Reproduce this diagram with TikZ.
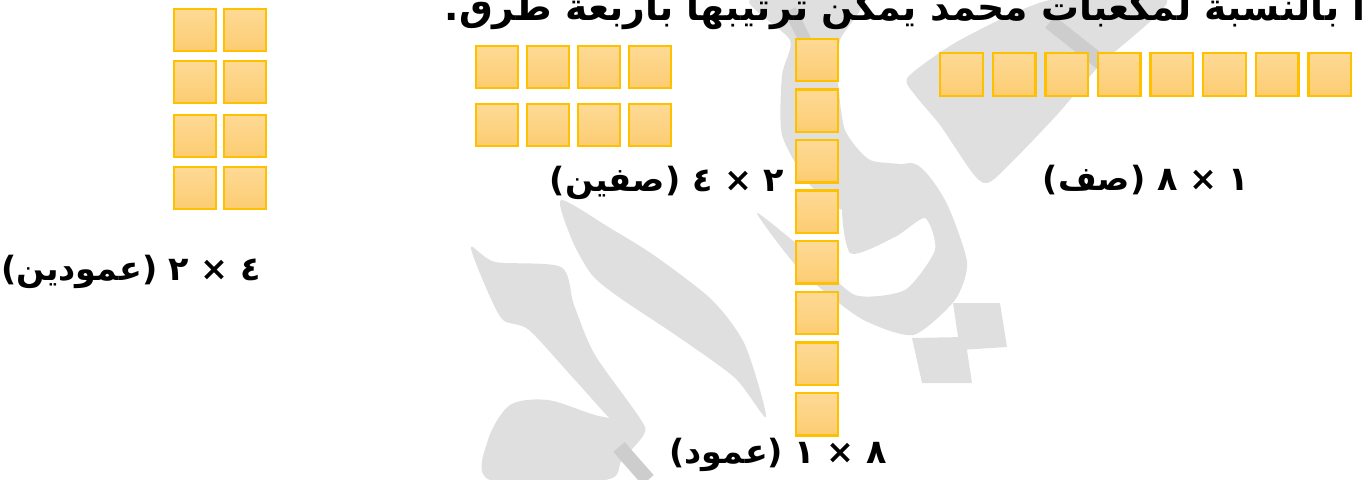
\documentclass[tikz,border=0pt]{standalone}
\usepackage{fontspec}
\newfontfamily\arabicfont[Script=Arabic]{DejaVu Sans}
\TeXXeTstate=1
\usetikzlibrary{backgrounds}
\definecolor{cubeline}{HTML}{FFC000}
\definecolor{cubetop}{HTML}{FEDA96}
\definecolor{cubebottom}{HTML}{FCCC72}
\definecolor{watermark}{HTML}{DFDFDF}
\definecolor{watermarkdark}{HTML}{CDCDCD}
\tikzset{
  cube/.style={
    shape=rectangle, draw=cubeline, line width=1.4pt, inner sep=0pt,
    top color=cubetop, bottom color=cubebottom, minimum size=0.85cm},
  size label/.style={
    font=\arabicfont\bfseries\fontsize{19}{22}\selectfont, inner sep=0pt},
  mark stroke/.style={fill=watermark, draw=none}
}

\begin{document}
\begin{tikzpicture}[x=0.02cm, y=-0.02cm]
\useasboundingbox (0,0) rectangle (1370,480);

% watermark behind the cubes
\begin{scope}[on background layer]
\fill[mark stroke] plot[smooth cycle, tension=.45] coordinates {
  (561,200) (610,228) (655,256) (712,300) (745,345) (766,417)
  (735,378) (677,336) (620,298) (592,275) (572,240)};
\fill[mark stroke] plot[smooth cycle, tension=.45] coordinates {
  (471,247) (495,262) (561,267) (574,305) (595,355) (645,427)
  (622,430) (575,380) (529,330) (503,320) (487,290)};
\fill[mark stroke] plot[smooth cycle, tension=.5] coordinates {
  (490,480) (488,440) (510,405) (548,400) (595,415) (645,428)
  (622,460) (605,480)};
\fill[mark stroke] plot[smooth cycle, tension=.4] coordinates {
  (750,0) (860,0) (840,40) (838,80) (845,130) (870,160) (915,168)
  (925,212) (895,230) (850,215) (810,185) (782,135) (782,75) (790,40)};
\fill[mark stroke] plot[smooth cycle, tension=.4] coordinates {
  (845,190) (912,163) (945,200) (967,262) (955,300) (913,335) (860,318)
  (800,270) (757,213) (810,255) (855,295) (905,290) (935,250) (925,218)
  (895,237) (850,253)};
\fill[mark stroke] (953,303) -- (1000,303) -- (1007,347) -- (960,350) -- cycle;
\fill[mark stroke] (912,338) -- (965,337) -- (972,383) -- (922,383) -- cycle;
\fill[mark stroke] plot[smooth cycle, tension=.4] coordinates {
  (908,77) (960,40) (1050,0) (1167,0) (1100,65) (1055,117) (993,180)
  (975,176) (940,125) (915,95)};
\draw[watermarkdark, line width=0.3cm] (1050,22) -- (1103,64);
\draw[watermarkdark, line width=0.25cm] (790,10) -- (805,40);
\draw[watermarkdark, line width=0.3cm] (619,447) -- (648,480);
\end{scope}

% four by two: two columns
\foreach \c in {1,2}
  \foreach \r/\y in {1/30, 2/82, 3/136, 4/188}
    \node[cube] (pair-\r-\c) at ({145+50*\c},\y) {};
\node[size label] (pair-label) at (131,272) {\beginR ٤ × ٢ (عمودين)\endR};

% two by four: two rows
\foreach \c/\x in {1/497, 2/548, 3/599, 4/650}
  \foreach \r/\y in {1/67, 2/125}
    \node[cube] (rows-\r-\c) at (\x,\y) {};
\node[size label] (rows-label) at (667,183) {\beginR ٢ × ٤ (صفين)\endR};

% eight by one: one column
\foreach \r in {1,...,8}
  \node[cube] (col-\r) at (817,{60+50.6*(\r-1)}) {};
\node[size label] (col-label) at (778,455) {\beginR ٨ × ١ (عمود)\endR};

% one by eight: one row
\foreach \c in {1,...,8}
  \node[cube] (row-\c) at ({961.5+52.6*(\c-1)},74.5) {};
\node[size label] (row-label) at (1146,180) {\beginR ١ × ٨ (صف)\endR};

% question text, cut by the top edge
\node[anchor=base east, inner sep=0pt,
  font=\arabicfont\bfseries\fontsize{21.5}{26}\selectfont] (intro) at (1366,20)
  {\beginR ا بالنسبة لمكعبات محمد يمكن ترتيبها بأربعة طرق.\endR};
\end{tikzpicture}
\end{document}
